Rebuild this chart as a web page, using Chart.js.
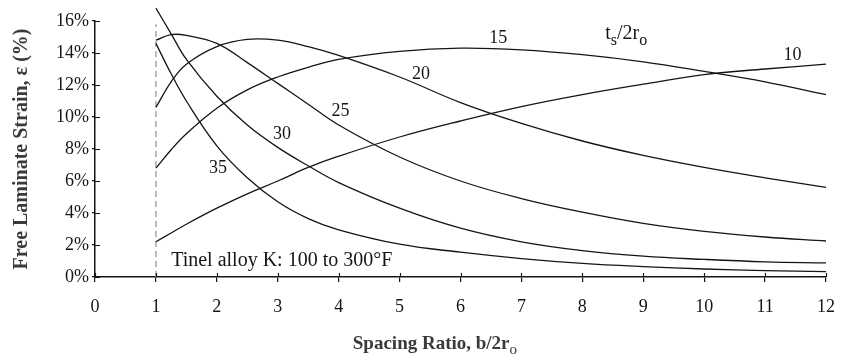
<!DOCTYPE html>
<html lang="en">
  <head>
    <meta charset="UTF-8" />
    <title>Free Laminate Strain vs Spacing Ratio</title>
    <script src="https://cdn.jsdelivr.net/npm/chart.js"></script>
    <style>
      html,
      body {
        margin: 0;
        padding: 0;
        background: #fff;
      }
      #chart-container {
        width: 849px;
        height: 359px;
        position: relative;
      }
    </style>
  </head>
  <body>
    <div id="chart-container">
      <canvas id="strainChart"></canvas>
    </div>

    <script>
      const spacing = [1, 1.25, 1.5, 2, 2.5, 3, 3.5, 4, 5, 6, 7, 8, 9, 10, 11, 12];

      // free laminate strain (%) for each ts/2ro value
      const strain10 = [2.2, 2.75, 3.3, 4.3, 5.2, 6.0, 6.85, 7.55, 8.75, 9.75, 10.65, 11.4, 12.05, 12.65, 13.0, 13.3];
      const strain15 = [6.8, 7.95, 8.95, 10.55, 11.7, 12.5, 13.1, 13.6, 14.1, 14.3, 14.2, 13.9, 13.45, 12.85, 12.2, 11.4];
      const strain20 = [10.6, 12.2, 13.3, 14.4, 14.85, 14.8, 14.4, 13.85, 12.5, 10.9, 9.6, 8.5, 7.6, 6.85, 6.2, 5.6];
      const strain25 = [14.8, 15.15, 15.1, 14.6, 13.4, 12.1, 10.8, 9.5, 7.5, 6.0, 4.9, 4.05, 3.35, 2.85, 2.5, 2.25];
      const strain30 = [16.8, 15.2, 13.6, 11.3, 9.5, 8.1, 6.95, 5.9, 4.3, 3.05, 2.2, 1.65, 1.3, 1.1, 0.95, 0.88];
      const strain35 = [14.6, 12.7, 11.0, 8.2, 6.2, 4.7, 3.65, 2.95, 2.05, 1.55, 1.15, 0.85, 0.65, 0.5, 0.4, 0.33];

      const ratioNames = ["10", "15", "20", "25", "30", "35"];
      const ratioSeries = [strain10, strain15, strain20, strain25, strain30, strain35];

      // dashed boundary at b/2ro = 1
      const boundarySpacing = 1;
      const boundaryStrain = [0, 15.8];

      const xTickValues = [0, 1, 2, 3, 4, 5, 6, 7, 8, 9, 10, 11, 12];
      const yMax = 16;

      // where the curve names sit (in data units)
      const curveLabels = [
        { text: "10", x: 11.45, y: 13.85 },
        { text: "15", x: 6.62, y: 14.95 },
        { text: "20", x: 5.35, y: 12.7 },
        { text: "25", x: 4.03, y: 10.35 },
        { text: "30", x: 3.07, y: 8.9 },
        { text: "35", x: 2.02, y: 6.8 },
      ];
      const noteText = "Tinel alloy K: 100 to 300°F";
      const xTitle = [["Spacing Ratio, b/2r", false], ["o", true]];
      const yTitle = "Free Laminate Strain, ε (%)";
      const legendTitle = [["t", false], ["s", true], ["/2r", false], ["o", true]];

      const serif = "'Liberation Serif', 'Times New Roman', 'DejaVu Serif', serif";
      const ink = "#151515";

      function drawParts(ctx, parts, x, y, size, align) {
        const subSize = Math.round(size * 0.78);
        let total = 0;
        parts.forEach(([t, sub]) => {
          ctx.font = `${sub ? subSize : size}px ${serif}`;
          total += ctx.measureText(t).width;
        });
        let cx = align === "center" ? x - total / 2 : x;
        ctx.textAlign = "left";
        parts.forEach(([t, sub]) => {
          ctx.font = `${sub ? subSize : size}px ${serif}`;
          ctx.fillText(t, cx, sub ? y + size * 0.3 : y);
          cx += ctx.measureText(t).width;
        });
      }

      const annotations = {
        id: "annotations",
        afterDraw(chart) {
          const { ctx, chartArea } = chart;
          const xs = chart.scales.x;
          const ys = chart.scales.y;
          ctx.save();

          // tick marks crossing into the plot
          ctx.strokeStyle = ink;
          ctx.lineWidth = 1.2;
          ctx.beginPath();
          xs.ticks.forEach((t) => {
            const px = Math.round(xs.getPixelForValue(t.value)) + 0.5;
            ctx.moveTo(px, chartArea.bottom);
            ctx.lineTo(px, chartArea.bottom - 4);
          });
          ys.ticks.forEach((t) => {
            const py = Math.round(ys.getPixelForValue(t.value)) + 0.5;
            ctx.moveTo(chartArea.left, py);
            ctx.lineTo(chartArea.left + 5, py);
          });
          ctx.stroke();

          ctx.fillStyle = ink;
          ctx.textBaseline = "middle";
          ctx.textAlign = "center";
          ctx.font = `18px ${serif}`;
          curveLabels.forEach((l) => {
            ctx.fillText(l.text, xs.getPixelForValue(l.x), ys.getPixelForValue(l.y));
          });

          ctx.textBaseline = "alphabetic";
          drawParts(ctx, legendTitle, xs.getPixelForValue(8.72), ys.getPixelForValue(14.85), 20, "center");

          ctx.textAlign = "left";
          ctx.font = `20px ${serif}`;
          ctx.fillText(noteText, xs.getPixelForValue(1.25), ys.getPixelForValue(0.68));

          // axis titles
          ctx.fillStyle = "#3a3a3a";
          const midX = chartArea.left + (chartArea.right - chartArea.left) * 0.465;
          ctx.textBaseline = "alphabetic";
          ctx.font = `bold 19px ${serif}`;
          let w = ctx.measureText(xTitle[0][0]).width;
          ctx.font = `15px ${serif}`;
          w += ctx.measureText(xTitle[1][0]).width;
          ctx.textAlign = "left";
          ctx.font = `bold 19px ${serif}`;
          ctx.fillText(xTitle[0][0], midX - w / 2, 349);
          const w0 = ctx.measureText(xTitle[0][0]).width;
          ctx.font = `15px ${serif}`;
          ctx.fillText(xTitle[1][0], midX - w / 2 + w0, 354);

          ctx.translate(22, (chartArea.top + chartArea.bottom) / 2);
          ctx.rotate(-Math.PI / 2);
          ctx.textAlign = "center";
          ctx.textBaseline = "middle";
          ctx.font = `bold 20px ${serif}`;
          ctx.fillText(yTitle, 0, 0);
          ctx.restore();
        },
      };

      const datasets = ratioSeries.map((series, i) => ({
        label: ratioNames[i],
        data: series.map((v, j) => ({ x: spacing[j], y: v })),
        borderColor: ink,
        borderWidth: 1.3,
        pointRadius: 0,
        tension: 0.4,
        clip: false,
      }));
      datasets.push({
        label: "b/2ro = 1",
        data: boundaryStrain.map((v) => ({ x: boundarySpacing, y: v })),
        borderColor: "#909090",
        borderWidth: 1.2,
        borderDash: [6, 4],
        pointRadius: 0,
      });

      const ctx = document.getElementById("strainChart").getContext("2d");
      new Chart(ctx, {
        type: "line",
        data: { datasets },
        options: {
          responsive: true,
          maintainAspectRatio: false,
          animation: false,
          layout: { padding: { top: 21, right: 10, left: 0, bottom: 0 } },
          plugins: { legend: { display: false }, tooltip: { enabled: false } },
          scales: {
            x: {
              type: "linear",
              min: 0,
              max: 12,
              afterFit: (s) => {
                s.height = 82;
              },
              afterBuildTicks: (s) => {
                s.ticks = xTickValues.map((v) => ({ value: v }));
              },
              border: { display: true, color: ink, width: 1.5 },
              grid: { drawOnChartArea: false, drawTicks: true, tickLength: 5, color: ink, lineWidth: 1.2 },
              ticks: {
                padding: 14,
                color: ink,
                maxRotation: 0,
                font: { family: serif, size: 18 },
              },
            },
            y: {
              min: 0,
              max: yMax,
              afterFit: (s) => {
                s.width = 95;
              },
              border: { display: true, color: ink, width: 1.5 },
              grid: { drawOnChartArea: false, drawTicks: true, tickLength: 3, color: ink, lineWidth: 1.2 },
              ticks: {
                stepSize: 1,
                padding: 3,
                color: ink,
                font: { family: serif, size: 18 },
                callback: (v) => (v % 2 === 0 ? v + "%" : ""),
              },
            },
          },
        },
        plugins: [annotations],
      });
    </script>
  </body>
</html>
